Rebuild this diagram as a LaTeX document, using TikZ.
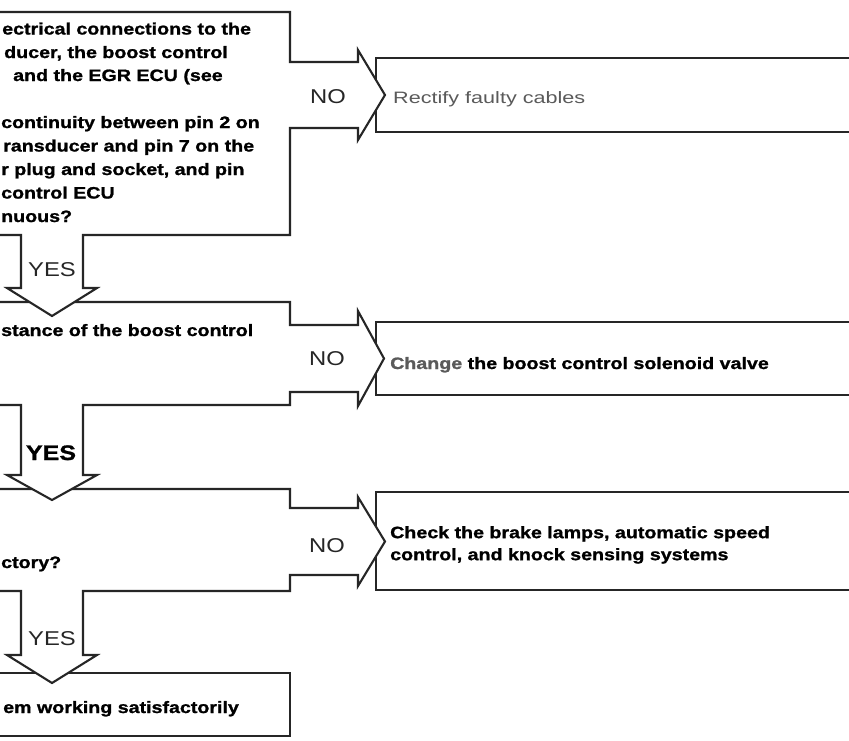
\documentclass[tikz,border=0pt]{standalone}
\usepackage{fontspec}
\setmainfont{Liberation Sans}[FakeStretch=1.19, BoldFeatures={FakeBold=1.2}]
\definecolor{ink}{HTML}{262626}
\definecolor{faded}{HTML}{5A5A5A}
\tikzset{
  outline/.style={draw=ink, line width=2.1pt, fill=white, line join=miter},
  qtext/.style={font=\fontsize{16.5}{23.5}\selectfont\bfseries, text=black, anchor=base west, inner sep=0pt},
  atext/.style={font=\fontsize{16.5}{22}\selectfont\bfseries, text=black, anchor=base west, inner sep=0pt, align=left},
  nolabel/.style={font=\fontsize{20}{24}\selectfont, text=ink, anchor=base, inner sep=0pt},
  yeslabel/.style={font=\fontsize{20}{24}\selectfont, text=ink, anchor=base, inner sep=0pt},
}
\begin{document}
\begin{tikzpicture}[x=1pt,y=-1pt]
\useasboundingbox (0,0) rectangle (849,740);
\clip (0,0) rectangle (849,740);
\fill[white] (0,0) rectangle (849,740);

% action boxes on the right (drawn first, the NO arrow heads overlap them)
\draw[outline] (376,58) rectangle (880,132);
\draw[outline] (376,322) rectangle (880,395);
\draw[outline] (376,492) rectangle (880,590);

% final box
\draw[outline] (-20,673) -- (290,673) -- (290,736) -- (-20,736) -- cycle;

% question 3 with its NO and YES arrows
\draw[outline] (-20,489) -- (290,489) -- (290,508) -- (358,508) -- (358,497)
  -- (385,541.5) -- (358,586) -- (358,575) -- (290,575) -- (290,591)
  -- (83,591) -- (83,655) -- (97,655) -- (52,683) -- (7,655) -- (21,655)
  -- (21,591) -- (-20,591) -- cycle;

% question 2 with its NO and YES arrows
\draw[outline] (-20,302) -- (290,302) -- (290,325) -- (358,325) -- (358,311)
  -- (384,358.5) -- (358,406) -- (358,392) -- (290,392) -- (290,405)
  -- (83,405) -- (83,475) -- (97,475) -- (52,500) -- (7,475) -- (21,475)
  -- (21,405) -- (-20,405) -- cycle;

% question 1 with its NO and YES arrows
\draw[outline] (-20,12) -- (290,12) -- (290,62) -- (358,62) -- (358,50)
  -- (385,95) -- (358,140) -- (358,128) -- (290,128) -- (290,235)
  -- (83,235) -- (83,288) -- (97,288) -- (52,316) -- (7,288) -- (21,288)
  -- (21,235) -- (-20,235) -- cycle;

% question 1 text
\node[qtext] (q1a) at (2,34.5) {ectrical connections to the};
\node[qtext] (q1b) at (4,58) {ducer, the boost control};
\node[qtext] (q1c) at (13,81) {and the EGR ECU (see};
\node[qtext] (q1d) at (1,128) {continuity between pin 2 on};
\node[qtext] (q1e) at (3,151.5) {ransducer and pin 7 on the};
\node[qtext] (q1f) at (1,175) {r plug and socket, and pin};
\node[qtext] (q1g) at (1,198.5) {control ECU};
\node[qtext] (q1h) at (1,222) {nuous?};

% question 2, 3 and final text
\node[qtext] (q2) at (1,336) {stance of the boost control};
\node[qtext] (q3) at (1,568) {ctory?};
\node[qtext] (q4) at (3,713) {em working satisfactorily};

% actions
\node[atext, font=\fontsize{16.5}{22}\selectfont, text=faded] (a1) at (393,103) {\scalebox{1.1}[1]{Rectify faulty cables}};
\node[atext] (a2) at (390,369) {\textcolor{faded}{Change} the boost control solenoid valve};
\node[atext, anchor=north west] (a3) at (390,526) {Check the brake lamps, automatic speed\\control, and knock sensing systems};

% branch labels
\node[nolabel] (no1) at (328,103) {NO};
\node[nolabel] (no2) at (327,365) {NO};
\node[nolabel] (no3) at (327,552) {NO};
\node[yeslabel] (yes1) at (52,276) {YES};
\node[yeslabel, font=\fontsize{21}{24}\selectfont\bfseries, text=black] (yes2) at (51,460) {YES};
\node[yeslabel] (yes3) at (52,645) {YES};
\end{tikzpicture}
\end{document}
